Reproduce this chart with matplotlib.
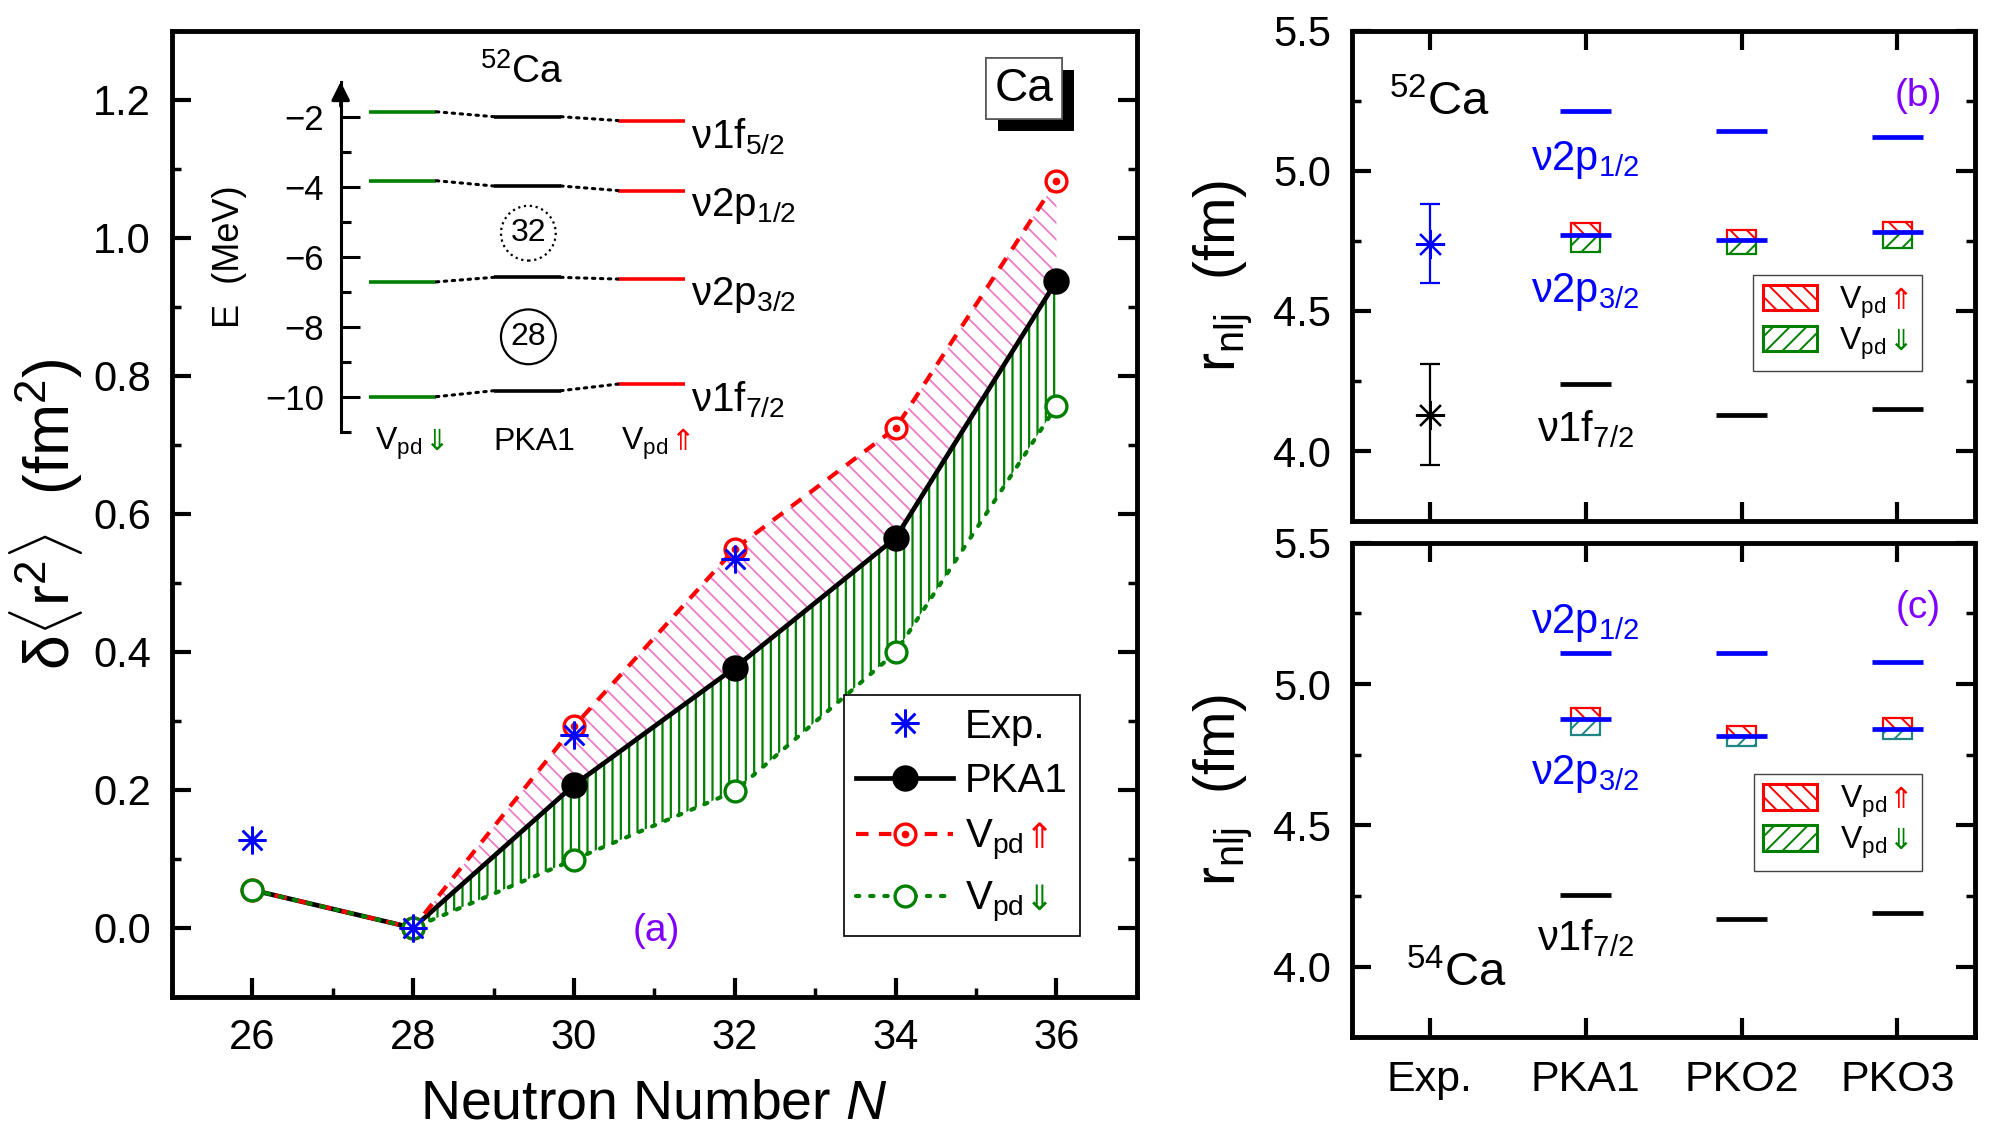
import matplotlib
matplotlib.use("Agg")
import matplotlib.pyplot as plt
import matplotlib.patches as mpatches
import matplotlib.patheffects as pe
import matplotlib.transforms as mtransforms
from matplotlib.ticker import MultipleLocator, FixedLocator
from matplotlib.legend_handler import HandlerTuple
from matplotlib.offsetbox import TextArea, HPacker
import numpy as np

# ---- panel (a): change of charge radius along the Ca chain ----
neutrons = [26, 28, 30, 32, 34, 36]
dr2_pka1 = [0.055, 0.0, 0.207, 0.377, 0.565, 0.937]
dr2_vpd_up = [0.055, 0.0, 0.292, 0.549, 0.724, 1.082]
dr2_vpd_down = [0.055, 0.0, 0.099, 0.198, 0.399, 0.756]
neutrons_exp = [26, 28, 30, 32]
dr2_exp = [0.127, 0.0, 0.279, 0.535]

# inset: neutron levels of 52Ca (MeV)
orbitals = ["ν1f$_{5/2}$", "ν2p$_{1/2}$", "ν2p$_{3/2}$", "ν1f$_{7/2}$"]
e_vpd_down = [-1.86, -3.83, -6.72, -10.0]
e_pka1 = [-2.0, -3.98, -6.59, -9.83]
e_vpd_up = [-2.11, -4.11, -6.64, -9.64]
inset_columns = ["V$_{\\rm pd}$", "PKA1", "V$_{\\rm pd}$"]

# ---- panels (b), (c): rms radii of neutron orbits ----
models = ["Exp.", "PKA1", "PKO2", "PKO3"]

ca52_exp = [4.74, 4.13]
ca52_exp_err = [0.14, 0.18]
ca52_p12 = [5.215, 5.143, 5.120]
ca52_p32 = [4.770, 4.752, 4.782]
ca52_p32_up = [4.814, 4.789, 4.818]
ca52_p32_down = [4.709, 4.702, 4.723]
ca52_f72 = [4.238, 4.129, 4.151]

ca54_p12 = [5.109, 5.109, 5.078]
ca54_p32 = [4.875, 4.817, 4.842]
ca54_p32_up = [4.914, 4.850, 4.880]
ca54_p32_down = [4.819, 4.782, 4.806]
ca54_f72 = [4.255, 4.169, 4.190]

plt.rcParams["font.family"] = ["Liberation Sans", "DejaVu Sans"]
plt.rcParams["mathtext.fontset"] = "custom"
plt.rcParams["mathtext.rm"] = "Liberation Sans"
plt.rcParams["mathtext.it"] = "Liberation Sans:italic"
plt.rcParams["mathtext.bf"] = "Liberation Sans:bold"
plt.rcParams["axes.linewidth"] = 3.5

PURPLE = "#8000ff"
GREEN = "#008000"
PINK = "#ec7cc8"


def style_ticks(ax, labelsize=29, pad=15):
    ax.tick_params(which="both", direction="in", labelsize=labelsize)
    ax.tick_params(which="major", length=14, width=3, pad=pad)
    ax.tick_params(which="minor", length=6.5, width=2.5)


def add_legend_arrows(leg, arrows, colors, size):
    # put a coloured arrow right after each legend text
    rows = leg._legend_handle_box.get_children()[0].get_children()
    for row, arrow, col in zip(rows, arrows, colors):
        if arrow is None:
            continue
        kids = row.get_children()
        box = HPacker(children=[kids[1], TextArea(arrow, textprops=dict(color=col, fontsize=size))],
                      sep=1, pad=0, align="baseline")
        box.set_figure(leg.figure)
        kids[1] = box


fig = plt.figure(figsize=(19.91, 11.39), dpi=100)

# ================= panel (a) =================
ax = fig.add_axes([0.0863, 0.1247, 0.4847, 0.8485])
ax.set_xlim(25, 37)
ax.set_ylim(-0.1, 1.3)
ax.xaxis.set_major_locator(MultipleLocator(2))
ax.xaxis.set_minor_locator(MultipleLocator(1))
ax.yaxis.set_major_locator(MultipleLocator(0.2))
ax.yaxis.set_minor_locator(MultipleLocator(0.1))
ax.yaxis.set_major_formatter(lambda v, p: f"{v:.1f}")
style_ticks(ax, labelsize=30)
ax.tick_params(which="both", right=True)

plt.rcParams["hatch.linewidth"] = 1.3
ax.fill_between(neutrons[1:], dr2_pka1[1:], dr2_vpd_up[1:], facecolor="none",
                edgecolor=PINK, hatch="\\\\", lw=0, zorder=2)
plt.rcParams["hatch.linewidth"] = 1.6
ax.fill_between(neutrons[1:], dr2_vpd_down[1:], dr2_pka1[1:], facecolor="none",
                edgecolor=GREEN, hatch="||", lw=0, zorder=2)

pka1_line, = ax.plot(neutrons, dr2_pka1, color="k", lw=3.4, marker="o", ms=18,
                     markevery=[2, 3, 4, 5], zorder=4)
up_line, = ax.plot(neutrons, dr2_vpd_up, color="red", lw=3, dashes=(3, 2.5), marker="o",
                   ms=15, mfc="white", mew=2.4, zorder=5)
up_dot, = ax.plot(neutrons, dr2_vpd_up, ls="none", marker="o", ms=4.5, color="red", zorder=5.2)
down_line, = ax.plot(neutrons, dr2_vpd_down, color=GREEN, lw=3, dashes=(0.8, 2.6),
                     dash_capstyle="round", marker="o", ms=15, mfc="white", mew=2.4, zorder=5.5)
exp_pts, = ax.plot(neutrons_exp, dr2_exp, ls="none", marker=(8, 2, 0), ms=20, mew=1.8,
                   color="blue", zorder=7)

ax.set_xlabel("Neutron Number $N$", fontsize=40, labelpad=15)
ax.set_ylabel(r"δ$\langle$r$^2\rangle$  (fm$^2$)", fontsize=45, labelpad=6)
ax.text(0.502, 0.068, "(a)", transform=ax.transAxes, color=PURPLE, fontsize=28,
        ha="center", va="center")

leg_a = ax.legend([exp_pts, pka1_line, (up_line, up_dot), down_line],
                  ["Exp.", "PKA1", "V$_{\\rm pd}$", "V$_{\\rm pd}$"],
                  handler_map={tuple: HandlerTuple(ndivide=1)},
                  loc="upper right", bbox_to_anchor=(0.941, 0.312), fontsize=29,
                  fancybox=False, edgecolor="k", framealpha=1, borderpad=0.3,
                  labelspacing=0.42, handlelength=2.4, handletextpad=0.3,
                  borderaxespad=0, numpoints=1)
leg_a.get_frame().set_linewidth(1.2)
add_legend_arrows(leg_a, [None, None, "⇑", "⇓"], [None, None, "red", GREEN], 25)

# "Ca" tag with drop shadow
tag = ax.text(0.883, 0.940, "Ca", transform=ax.transAxes, fontsize=33, ha="center", va="center",
              bbox=dict(boxstyle="square,pad=0.19", fc="white", ec="#555555", lw=1.2), zorder=8)
tag.get_bbox_patch().set_path_effects([pe.withSimplePatchShadow(offset=(8.5, -8.5),
                                                                shadow_rgbFace="k", alpha=1),
                                       pe.Normal()])

# ----- inset: level scheme -----
ax_in = fig.add_axes([0.1711, 0.621, 0.1873, 0.3073])
ax_in.patch.set_alpha(0)
ax_in.set_xlim(-0.5, 2.5)
ax_in.set_ylim(-11, -1)
for side in ["top", "right", "bottom"]:
    ax_in.spines[side].set_visible(False)
ax_in.spines["left"].set_linewidth(2.2)
ax_in.yaxis.set_major_locator(MultipleLocator(2))
ax_in.yaxis.set_minor_locator(FixedLocator([-11, -9, -7, -5, -3]))
ax_in.tick_params(which="both", direction="in", labelsize=25, bottom=False, labelbottom=False)
ax_in.tick_params(which="major", length=13.5, width=2.2, pad=12)
ax_in.tick_params(which="minor", length=7, width=2.2)
ax_in.annotate("", xy=(0, 1.0), xytext=(0, 0.93), xycoords="axes fraction",
               arrowprops=dict(arrowstyle="-|>", color="k", lw=2.2, mutation_scale=28,
                               shrinkA=0, shrinkB=0))
ax_in.text(-0.297, 0.5, "E  (MeV)", rotation=90, transform=ax_in.transAxes,
           ha="center", va="center", fontsize=26)

half_w = 0.27
level_sets = [e_vpd_down, e_pka1, e_vpd_up]
level_colors = [GREEN, "k", "red"]
for i, (levels, col) in enumerate(zip(level_sets, level_colors)):
    ax_in.hlines(levels, i - half_w, i + half_w, colors=col, lw=2.6)
for i in range(2):
    for e0, e1 in zip(level_sets[i], level_sets[i + 1]):
        ax_in.plot([i + half_w, i + 1 - half_w], [e0, e1], color="k", lw=2.2,
                   dashes=(0.8, 1.8), dash_capstyle="round")
for lab, e in zip(orbitals, e_vpd_up):
    ax_in.text(2.32, e + 0.12, lab, ha="left", va="top", fontsize=29)

ax_in.text(1.01, -5.33, "32", ha="center", va="center", fontsize=23,
           bbox=dict(boxstyle="circle,pad=0.3", fc="none", ec="k", lw=1.6, ls=":"))
ax_in.text(1.01, -8.29, "28", ha="center", va="center", fontsize=23,
           bbox=dict(boxstyle="circle,pad=0.3", fc="none", ec="k", lw=1.6))
ax_in.text(0.96, -0.72, "$^{52}$Ca", ha="center", va="center", fontsize=28)

trans_in = mtransforms.blended_transform_factory(ax_in.transData, ax_in.transAxes)
col_x = [-0.22, 1.06, 1.756]
col_ha = ["left", "center", "left"]
col_arrow = ["⇓", None, "⇑"]
col_arrow_c = [GREEN, None, "red"]
for lab, x, ha, arr, ac in zip(inset_columns, col_x, col_ha, col_arrow, col_arrow_c):
    t = ax_in.text(x, -0.052, lab, transform=trans_in, ha=ha, va="baseline", fontsize=23)
    if arr is not None:
        ax_in.annotate(arr, xy=(1.0, -0.052), xycoords=(t, "axes fraction"),
                       xytext=(1, 0), textcoords="offset points", va="baseline",
                       ha="left", color=ac, fontsize=21)


# ================= panels (b) and (c) =================
def radius_panel(ax, p12, p32, p32_up, p32_down, f72, down_color):
    xm = np.arange(1, len(models))
    half = 0.165
    ax.set_xlim(-0.5, 3.5)
    ax.set_ylim(3.75, 5.5)
    ax.set_xticks(np.arange(len(models)))
    ax.yaxis.set_major_locator(MultipleLocator(0.5))
    ax.yaxis.set_minor_locator(MultipleLocator(0.25))
    ax.yaxis.set_major_formatter(lambda v, p: f"{v:.1f}")
    style_ticks(ax, labelsize=30, pad=15)
    ax.tick_params(which="both", top=True, right=True)

    base = np.array(p32)
    plt.rcParams["hatch.linewidth"] = 1.4
    ax.bar(xm, np.array(p32_up) - base, bottom=base, width=0.19, facecolor="white",
           edgecolor="red", hatch="\\\\", lw=1.6, zorder=3)
    ax.bar(xm, base - np.array(p32_down), bottom=p32_down, width=0.19, facecolor="white",
           edgecolor=down_color, hatch="//", lw=1.6, zorder=3)
    ax.hlines(p12, xm - half, xm + half, colors="blue", lw=3.4, zorder=4)
    ax.hlines(p32, xm - half, xm + half, colors="blue", lw=3.4, zorder=4)
    ax.hlines(f72, xm - half, xm + half, colors="k", lw=3.4, zorder=4)
    ax.set_ylabel("r$_{\\rm nlj}$  (fm)", fontsize=41, labelpad=14)

    up_patch = mpatches.Patch(facecolor="white", edgecolor="red", hatch="\\\\", lw=2.2)
    down_patch = mpatches.Patch(facecolor="white", edgecolor=GREEN, hatch="//", lw=2.2)
    return up_patch, down_patch


def radius_legend(ax, handles, anchor):
    leg = ax.legend(handles, ["V$_{\\rm pd}$", "V$_{\\rm pd}$"], loc="upper right",
                    bbox_to_anchor=anchor, fontsize=23, fancybox=False, edgecolor="#444444",
                    framealpha=1, handlelength=1.7, handleheight=0.85, handletextpad=0.7,
                    borderpad=0.3, labelspacing=0.15, borderaxespad=0)
    leg.get_frame().set_linewidth(1.0)
    add_legend_arrows(leg, ["⇑", "⇓"], ["red", GREEN], 21)
    return leg


ax_b = fig.add_axes([0.679, 0.5424, 0.3131, 0.4307])
hb = radius_panel(ax_b, ca52_p12, ca52_p32, ca52_p32_up, ca52_p32_down, ca52_f72, GREEN)
ax_b.tick_params(labelbottom=False)
for r, err, col in zip(ca52_exp, ca52_exp_err, ["blue", "k"]):
    ax_b.errorbar([0], [r], yerr=[err], marker=(8, 2, 0), ms=21, mew=1.6, ls="none",
                  color=col, capsize=7, elinewidth=1.6, capthick=1.6, zorder=5)
ax_b.text(1.0, 5.04, "ν2p$_{1/2}$", color="blue", ha="center", va="center", fontsize=30)
ax_b.text(1.0, 4.568, "ν2p$_{3/2}$", color="blue", ha="center", va="center", fontsize=30)
ax_b.text(1.0, 4.08, "ν1f$_{7/2}$", color="k", ha="center", va="center", fontsize=30)
ax_b.text(0.141, 0.852, "$^{52}$Ca", transform=ax_b.transAxes, ha="center", va="center",
          fontsize=34)
ax_b.text(0.909, 0.867, "(b)", transform=ax_b.transAxes, ha="center", va="center",
          fontsize=28, color=PURPLE)
radius_legend(ax_b, hb, (0.9145, 0.502))

ax_c = fig.add_axes([0.679, 0.0893, 0.3131, 0.4341])
hc = radius_panel(ax_c, ca54_p12, ca54_p32, ca54_p32_up, ca54_p32_down, ca54_f72, "#1f8585")
ax_c.set_xticklabels(models)
ax_c.tick_params(axis="x", labelsize=31, pad=16)
ax_c.text(1.0, 5.218, "ν2p$_{1/2}$", color="blue", ha="center", va="center", fontsize=30)
ax_c.text(1.0, 4.681, "ν2p$_{3/2}$", color="blue", ha="center", va="center", fontsize=30)
ax_c.text(1.0, 4.102, "ν1f$_{7/2}$", color="k", ha="center", va="center", fontsize=30)
ax_c.text(0.168, 0.129, "$^{54}$Ca", transform=ax_c.transAxes, ha="center", va="center",
          fontsize=34)
ax_c.text(0.909, 0.868, "(c)", transform=ax_c.transAxes, ha="center", va="center",
          fontsize=28, color=PURPLE)
radius_legend(ax_c, hc, (0.915, 0.532))

fig.savefig("out.png", dpi=100)
